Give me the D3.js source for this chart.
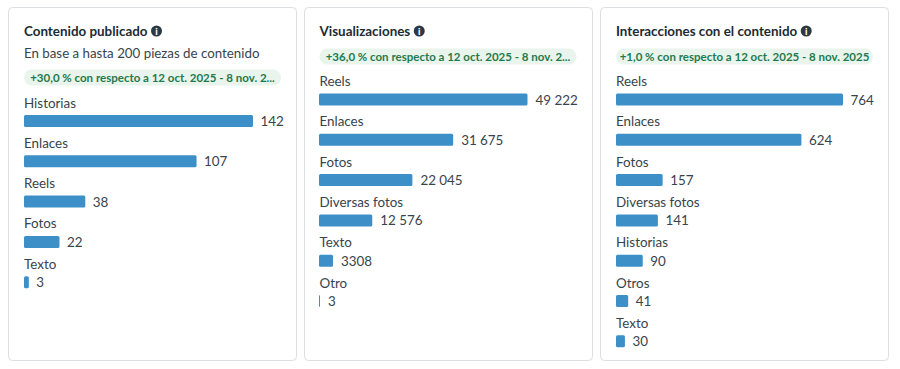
<!DOCTYPE html>
<html><head><meta charset="utf-8">
<script src="https://cdn.jsdelivr.net/npm/d3@7/dist/d3.min.js"></script>
<style>html,body{margin:0;padding:0;background:#fff}svg{display:block}</style>
</head><body><svg id="c" width="900" height="369"></svg>
<script>
const titles = ["Contenido publicado", "Visualizaciones", "Interacciones con el contenido"];
const subtitles = ["En base a hasta 200 piezas de contenido", "", ""];
const badges = [
  "+30,0 % con respecto a 12 oct. 2025 - 8 nov. 2...",
  "+36,0 % con respecto a 12 oct. 2025 - 8 nov. 2...",
  "+1,0 % con respecto a 12 oct. 2025 - 8 nov. 2025"
];
const categories1 = ["Historias", "Enlaces", "Reels", "Fotos", "Texto"];
const values1 = [142, 107, 38, 22, 3];
const categories2 = ["Reels", "Enlaces", "Fotos", "Diversas fotos", "Texto", "Otro"];
const values2 = [49222, 31675, 22045, 12576, 3308, 3];
const categories3 = ["Reels", "Enlaces", "Fotos", "Diversas fotos", "Historias", "Otros", "Texto"];
const values3 = [764, 624, 157, 141, 90, 41, 30];

const seriesCats = [categories1, categories2, categories3];
const seriesVals = [values1, values2, values3];
const layout = [
  {x:8.5, w:288, inner:24, barOffset:0, barMax:229, firstLabel:107.5, badgeY:78, titleY:36, badgeW:257},
  {x:304.5, w:288, inner:319.5, barOffset:-0.5, barMax:208.5, firstLabel:86, badgeY:57, titleY:36, badgeW:257},
  {x:600.5, w:288, inner:616, barOffset:0, barMax:227, firstLabel:86, badgeY:57, titleY:36, badgeW:257}
];
const FONT = "Lato, 'Noto Sans', sans-serif";
const fmt = v => { const s = String(v); return s.length > 4 ? s.replace(/\B(?=(\d{3})+$)/g, "\u202f") : s; };
const svg = d3.select("#c").style("font-family", FONT);

layout.forEach((p, i) => {
  const g = svg.append("g");
  g.append("rect").attr("x", p.x).attr("y", 7.5).attr("width", p.w).attr("height", 353)
    .attr("rx", 4).attr("fill", "#fff").attr("stroke", "#dcdfe2");
  const title = g.append("text").attr("x", p.inner).attr("y", p.titleY)
    .attr("font-size", 13.4).attr("font-weight", 700).attr("fill", "#1c2b33").text(titles[i]);
  const tw = title.node().getComputedTextLength();
  const ix = p.inner + tw + 9, iy = p.titleY - 5;
  g.append("circle").attr("cx", ix).attr("cy", iy).attr("r", 5.5).attr("fill", "#2b3a42");
  g.append("text").attr("x", ix).attr("y", iy + 3.5).attr("text-anchor", "middle")
    .attr("font-size", 9.5).attr("font-weight", 900).attr("fill", "#fff").text("i");
  if (subtitles[i]) g.append("text").attr("x", p.inner).attr("y", 58)
    .attr("font-size", 13.3).attr("fill", "#37444c").text(subtitles[i]);
  g.append("rect").attr("x", p.inner).attr("y", p.badgeY - 8.5).attr("width", p.badgeW).attr("height", 16)
    .attr("rx", 8).attr("fill", "#e9f4ec");
  g.append("text").attr("x", p.inner + p.badgeW / 2).attr("y", p.badgeY + 4).attr("text-anchor", "middle")
    .attr("font-size", 11.5).attr("font-weight", 700).attr("fill", "#1f7a4d").text(badges[i]);

  const cats = seriesCats[i], vals = seriesVals[i];
  const x = d3.scaleLinear().domain([0, d3.max(vals)]).range([0, p.barMax]);
  const y = d3.scalePoint().domain(cats).range([p.firstLabel, p.firstLabel + 40.3 * (cats.length - 1)]);
  const rows = g.selectAll("g.row").data(cats).join("g").attr("class", "row")
    .attr("transform", d => `translate(${p.inner},${y(d)})`);
  rows.append("text").attr("font-size", 13.4).attr("fill", "#37444c").text(d => d);
  rows.append("rect").attr("x", p.barOffset).attr("y", 7.5).attr("height", 12).attr("rx", 1.5)
    .attr("width", (d, k) => Math.max(1, x(vals[k]))).attr("fill", "#3d8fc7");
  rows.append("text").attr("x", (d, k) => Math.max(1, x(vals[k])) + 7.5).attr("y", 18.5)
    .attr("font-size", 13.4).attr("fill", "#37444c").text((d, k) => fmt(vals[k]));
});
</script></body></html>
